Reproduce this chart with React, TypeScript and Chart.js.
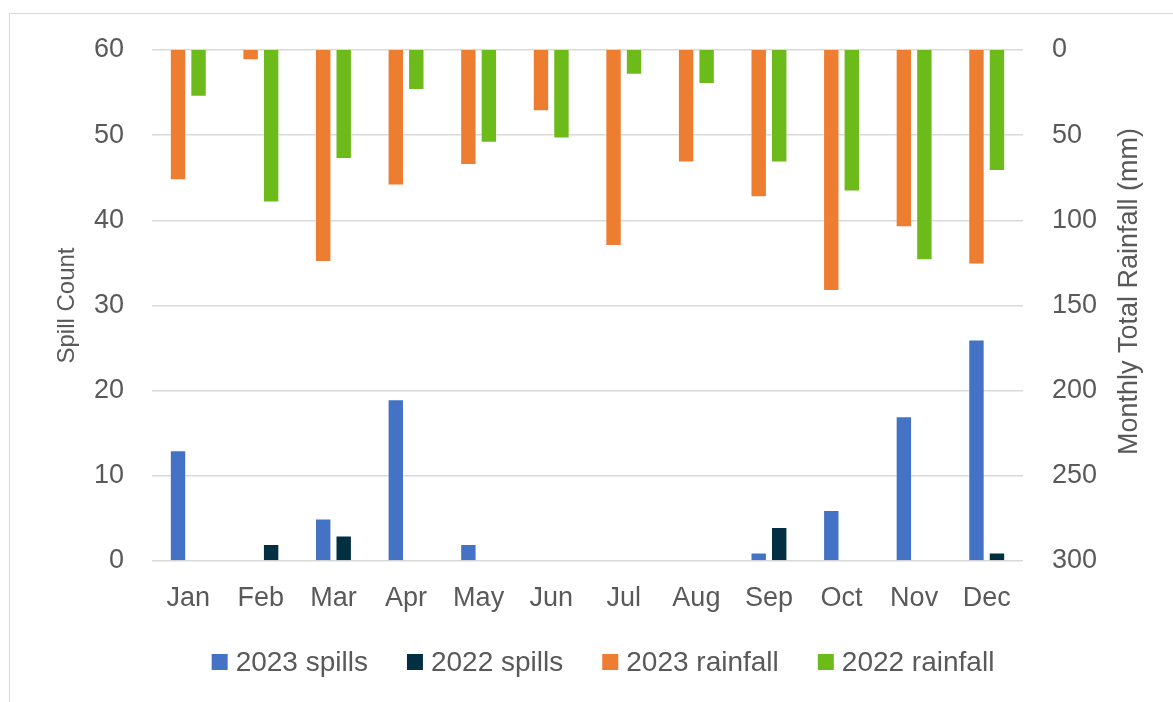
import React, { useEffect, useRef } from "react";
import { Chart, registerables } from "chart.js";

Chart.register(...registerables);

const months = ["Jan", "Feb", "Mar", "Apr", "May", "Jun", "Jul", "Aug", "Sep", "Oct", "Nov", "Dec"];
const spills2023 = [13, 0, 5, 19, 2, 0, 0, 0, 1, 6, 17, 26];
const spills2022 = [0, 2, 3, 0, 0, 0, 0, 0, 4, 0, 0, 1];
const rainfall2023 = [76.5, 6, 124.5, 79.5, 67.5, 36, 115, 66, 86.5, 141.5, 104, 126];
const rainfall2022 = [27.5, 89.5, 64, 23.5, 54.5, 52, 14.5, 20, 66, 83, 123.5, 71];

const seriesNames = ["2023 spills", "2022 spills", "2023 rainfall", "2022 rainfall"];
const seriesColors = ["#4472C4", "#032F43", "#ED7D31", "#6CBB1A"];

const FONT = "'Liberation Sans', Arial, sans-serif";
const TEXT_COLOR = "#595959";

const titlesAndLegend = {
  id: "titlesAndLegend",
  afterDraw(chart: any) {
    const { ctx, chartArea } = chart;
    ctx.save();
    ctx.fillStyle = TEXT_COLOR;
    ctx.textAlign = "center";
    ctx.textBaseline = "middle";
    // left axis title
    ctx.font = `24px ${FONT}`;
    ctx.save();
    ctx.translate(67, (chartArea.top + chartArea.bottom) / 2);
    ctx.rotate(-Math.PI / 2);
    ctx.fillText("Spill Count", 0, 0);
    ctx.restore();
    // right axis title
    ctx.font = `27px ${FONT}`;
    ctx.save();
    ctx.translate(1130, (chartArea.top + chartArea.bottom) / 2 - 14);
    ctx.rotate(-Math.PI / 2);
    ctx.fillText("Monthly Total Rainfall (mm)", 0, 0);
    ctx.restore();

    // legend
    ctx.font = `28px ${FONT}`;
    const box = 16;
    const gapBoxText = 8;
    const gapItems = 39;
    const widths = seriesNames.map((n) => ctx.measureText(n).width);
    const total =
      widths.reduce((a: number, w: number) => a + box + gapBoxText + w, 0) + gapItems * (seriesNames.length - 1);
    let x = 603 - total / 2;
    const y = 663;
    ctx.textAlign = "left";
    seriesNames.forEach((n, i) => {
      ctx.fillStyle = seriesColors[i];
      ctx.fillRect(x, y - box / 2 - 1, box, box);
      ctx.fillStyle = TEXT_COLOR;
      ctx.fillText(n, x + box + gapBoxText, y);
      x += box + gapBoxText + widths[i] + gapItems;
    });
    ctx.restore();
  },
};

export default function App() {
  const canvasRef = useRef<HTMLCanvasElement | null>(null);

  useEffect(() => {
    if (!canvasRef.current) return;
    const border = "rgba(255,255,255,0.45)";
    const chart = new Chart(canvasRef.current, {
      type: "bar",
      data: {
        labels: months,
        datasets: [
          { label: seriesNames[0], data: spills2023, backgroundColor: seriesColors[0], borderColor: border, borderWidth: 1, yAxisID: "y", stack: "a" },
          { label: seriesNames[1], data: spills2022, backgroundColor: seriesColors[1], borderColor: border, borderWidth: 1, yAxisID: "y", stack: "b" },
          { label: seriesNames[2], data: rainfall2023, backgroundColor: seriesColors[2], borderColor: border, borderWidth: 1, yAxisID: "y1", stack: "a" },
          { label: seriesNames[3], data: rainfall2022, backgroundColor: seriesColors[3], borderColor: border, borderWidth: 1, yAxisID: "y1", stack: "b" },
        ],
      },
      options: {
        animation: false,
        responsive: false,
        maintainAspectRatio: false,
        categoryPercentage: 0.565,
        barPercentage: 0.8,
        layout: { padding: { top: 50, left: 0, right: 0, bottom: 0 } },
        plugins: {
          legend: { display: false },
          tooltip: { enabled: false },
        },
        scales: {
          x: {
            grid: { display: false, drawTicks: false, tickLength: 0 },
            border: { display: false },
            ticks: { color: TEXT_COLOR, font: { family: FONT, size: 27 }, padding: 21, maxRotation: 0, autoSkip: false },
            afterFit: (s: any) => { s.height = 141; },
          },
          y: {
            position: "left",
            min: 0,
            max: 60,
            stacked: false,
            ticks: { stepSize: 10, color: TEXT_COLOR, font: { family: FONT, size: 27 }, padding: 28 },
            grid: { color: "#d9d9d9", lineWidth: 1.5, drawTicks: false, tickLength: 0 },
            border: { display: false },
            afterFit: (s: any) => { s.width = 152; },
          },
          y1: {
            position: "right",
            min: 0,
            max: 300,
            reverse: true,
            stacked: false,
            ticks: { stepSize: 50, color: TEXT_COLOR, font: { family: FONT, size: 27 }, padding: 29 },
            grid: { display: false, drawTicks: false, tickLength: 0 },
            border: { display: false },
            afterFit: (s: any) => { s.width = 150; },
          },
        },
      },
      plugins: [titlesAndLegend],
    });
    return () => chart.destroy();
  }, []);

  return (
    <div style={{ position: "fixed", left: 0, top: 0, width: 1173, height: 702, background: "#fff", overflow: "hidden" }}>
      <div
        style={{
          position: "absolute",
          left: 9,
          top: 13,
          width: 1250,
          height: 760,
          border: "1.5px solid #d9d9d9",
          boxSizing: "border-box",
        }}
      />
      <canvas ref={canvasRef} width={1173} height={702} style={{ position: "absolute", left: 0, top: 0, width: 1173, height: 702 }} />
    </div>
  );
}
